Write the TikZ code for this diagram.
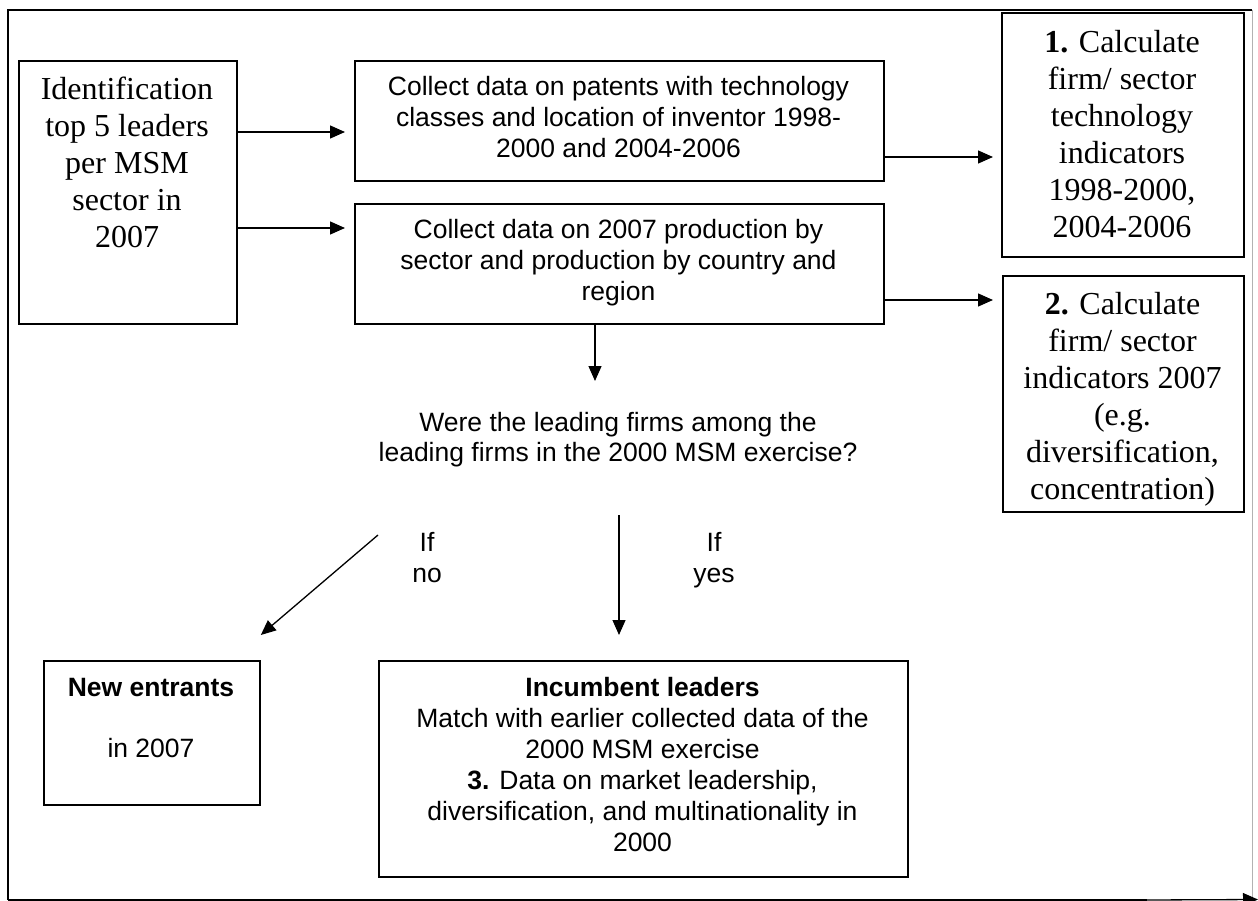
\documentclass[tikz,border=0pt]{standalone}
\usepackage{fontspec}
\setmainfont{Liberation Serif}
\newfontfamily\arialfont{Liberation Sans}
\usetikzlibrary{arrows.meta,calc}
\begin{document}
\begin{tikzpicture}[x=1pt,y=-1pt,
  box/.style={draw, line width=1.8pt, inner sep=0pt, anchor=north west},
  tnr/.style={font=\fontsize{32}{37}\selectfont, align=center, inner sep=0pt, anchor=base},
  ari/.style={font=\arialfont\fontsize{26.5}{31}\selectfont, align=center, inner sep=0pt, anchor=base},
  arr/.style={line width=1.3pt, -{Triangle[length=15pt,width=13pt]}},
  frame/.style={line width=1.6pt}]
\useasboundingbox (0,0) rectangle (1258,901);
% outer frame
\draw[frame] (8,900) -- (8,10) -- (1252,10);
\draw[gray!60, line width=1pt] (1252,10) -- (1252,900);
\coordinate (fb1) at (8,900);
\coordinate (fb2) at (1147,900);
\coordinate (fb3) at (1258,899.5);
\draw[frame] (fb1) -- (fb2);
\draw[arr] (fb2) -- (fb3);
% boxes
\node[box, minimum width=218pt, minimum height=263pt] (A) at (18,60) {};
\node[box, minimum width=529pt, minimum height=120pt] (B) at (354,60) {};
\node[box, minimum width=529pt, minimum height=120pt] (C) at (354,203) {};
\node[box, minimum width=242pt, minimum height=244pt] (D1) at (1001,12) {};
\node[box, minimum width=241pt, minimum height=236pt] (D2) at (1002,275) {};
\node[box, minimum width=216pt, minimum height=144pt] (N) at (43,660) {};
\node[box, minimum width=529pt, minimum height=216pt] (I) at (378,660) {};
% texts (anchor = baseline of the last line)
\node[tnr] (At) at (127,248) {Identification\\top 5 leaders\\per MSM\\sector in\\2007};
\node[ari] (Bt) at (618.5,158) {Collect data on patents with technology\\classes and location of inventor 1998-\\2000 and 2004-2006};
\node[ari] (Ct) at (618.5,301) {Collect data on 2007 production by\\sector and production by country and\\region};
\node[tnr] (D1t) at (1122,238) {\textbf{1.} Calculate\\firm/ sector\\technology\\indicators\\1998-2000,\\2004-2006};
\node[tnr] (D2t) at (1122.5,499) {\textbf{2.} Calculate\\firm/ sector\\indicators 2007\\(e.g.\\diversification,\\concentration)};
\node[ari, font=\arialfont\fontsize{26.5}{30}\selectfont] (Q) at (618,461) {Were the leading firms among the\\leading firms in the 2000 MSM exercise?};
\node[ari] (Lno) at (427,582) {If\\no};
\node[ari] (Lyes) at (714,582) {If\\yes};
\node[ari] (Nt) at (151,757) {\textbf{New entrants}\\[30pt]in 2007};
\node[ari] (It) at (642.5,851) {\textbf{Incumbent leaders}\\Match with earlier collected data of the\\2000 MSM exercise\\\textbf{3.} Data on market leadership,\\diversification, and multinationality in\\2000};
% connector helpers
\coordinate (y1) at (0,132);
\coordinate (y2) at (0,228);
\coordinate (y3) at (0,157);
\coordinate (y4) at (0,300);
\coordinate (xq) at (595,0);
\coordinate (qtip) at (595,381);
\coordinate (d1) at (378,535);
\coordinate (v1) at (619,515);
% connectors
\draw[arr] (A.east |- y1) -- ([xshift=-9pt]B.west |- y1);
\draw[arr] (A.east |- y2) -- ([xshift=-9pt]C.west |- y2);
\draw[arr] (B.east |- y3) -- ([xshift=-8pt]D1.west |- y3);
\draw[arr] (C.east |- y4) -- ([xshift=-9pt]D2.west |- y4);
\draw[arr] (C.south -| xq) -- (qtip);
\draw[arr] (d1) -- ([yshift=25pt]N.north east);
\draw[arr] (v1) -- ([yshift=25pt]I.north -| v1);
\end{tikzpicture}
\end{document}
